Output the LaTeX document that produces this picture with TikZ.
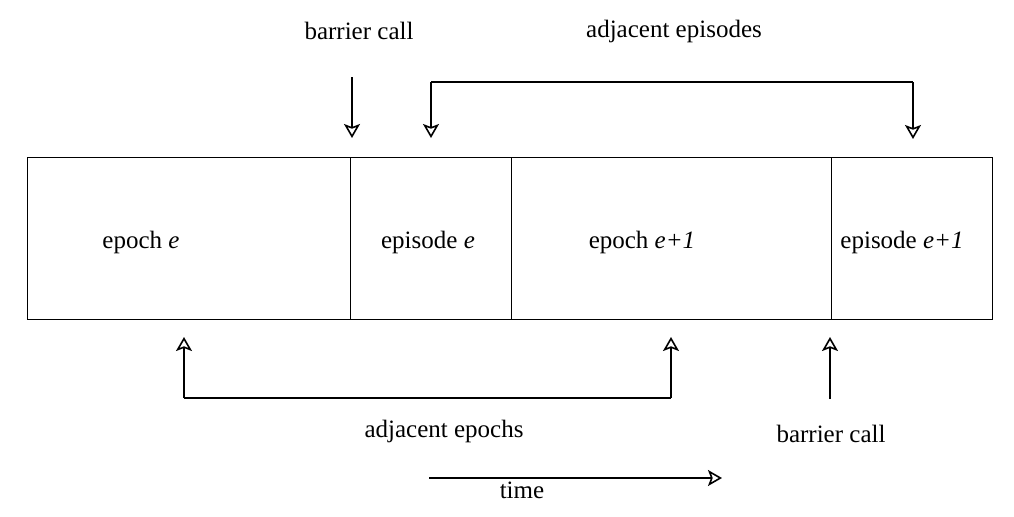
\documentclass[tikz,border=0pt]{standalone}
\usepackage{fontspec}
\setmainfont{LiberationSerif}[Extension=.ttf, UprightFont=*-Regular, ItalicFont=*-Italic, BoldFont=*-Bold, BoldItalicFont=*-BoldItalic]
\usetikzlibrary{arrows.meta}
\begin{document}
\begin{tikzpicture}[x=0.5pt,y=-0.5pt,
  cell/.style={draw, line width=0.5pt, minimum height=81pt, inner sep=0pt, anchor=north west},
  lbl/.style={font=\fontsize{12.5}{14}\selectfont, inner sep=1pt},
  arr/.style={line width=0.6pt, -{Stealth[open,length=7pt,width=8pt,inset=1.5pt,line width=0.8pt]}},
  ln/.style={line width=0.6pt}]
\useasboundingbox (0,0) rectangle (1014,516);
% cells
\node[cell, minimum width=161.5pt] (c1) at (27,157) {};
\node[cell, minimum width=80.5pt] (c2) at (350,157) {};
\node[cell, minimum width=160pt] (c3) at (511,157) {};
\node[cell, minimum width=80.5pt] (c4) at (831,157) {};
% cell texts
\node[lbl] (t1) at (141,242) {epoch \textit{e}};
\node[lbl] (t2) at (428,242) {episode \textit{e}};
\node[lbl] (t3) at (642,242) {epoch \textit{e+1}};
\node[lbl] (t4) at (902,242) {episode \textit{e+1}};
% top labels
\node[lbl] (bc1) at (359,31) {barrier call};
\node[lbl] (ae) at (674,31) {adjacent episodes};
% bottom labels
\node[lbl] (aep) at (444,431) {adjacent epochs};
\node[lbl] (bc2) at (831,434) {barrier call};
\node[lbl] (time) at (522,490) {time};
% coordinates
\coordinate (b1s) at (352,77);
\coordinate (b1e) at (352,138);
\coordinate (ae1) at (431,138);
\coordinate (ae2) at (913,139);
\coordinate (aetop) at (431,82);
\coordinate (ep1) at (184,337);
\coordinate (ep2) at (671,337);
\coordinate (epb) at (184,398);
\coordinate (b2s) at (830,399);
\coordinate (b2e) at (830,337);
\coordinate (ts) at (429,478);
\coordinate (te) at (722,478);
% arrows
\draw[arr] (b1s) -- (b1e);
\draw[arr] (ae1 |- aetop) -- (ae1);
\draw[ln] (ae1 |- aetop) -- (ae2 |- aetop);
\draw[arr] (ae2 |- aetop) -- (ae2);
\draw[arr] (epb) -- (ep1);
\draw[ln] (epb) -- (ep2 |- epb);
\draw[arr] (ep2 |- epb) -- (ep2);
\draw[arr] (b2s) -- (b2e);
\draw[arr] (ts) -- (te);
\end{tikzpicture}
\end{document}
